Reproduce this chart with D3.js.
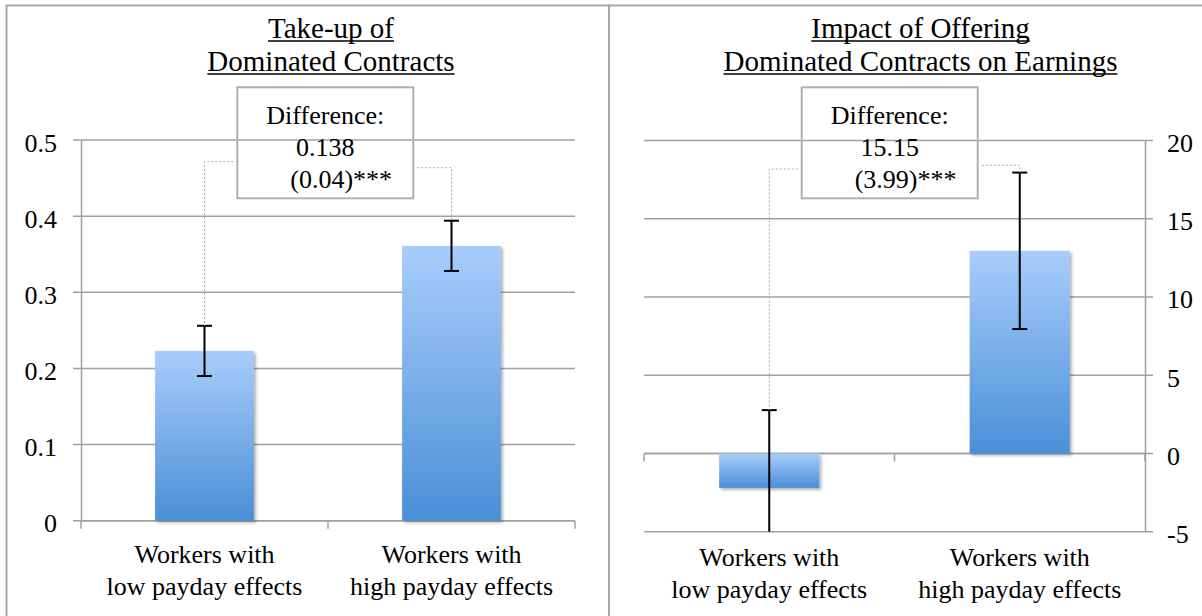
<!DOCTYPE html>
<html>
<head>
<meta charset="utf-8">
<script src="https://cdn.jsdelivr.net/npm/d3@7"></script>
<style>
  html, body { margin: 0; padding: 0; background: #fff; }
  svg { display: block; }
</style>
</head>
<body>
<svg id="chart" width="1202" height="616"></svg>
<script>
// Groups compared in both panels
const categories = [
  ["Workers with", "low payday effects"],
  ["Workers with", "high payday effects"]
];

// Panel 1: take-up of dominated contracts
const takeupMeans = [0.223, 0.361];
const takeupErrors = [0.033, 0.033];
const takeupTicks = [0, 0.1, 0.2, 0.3, 0.4, 0.5];
const takeupTickLabels = ["0", "0.1", "0.2", "0.3", "0.4", "0.5"];
const takeupTitle = ["Take-up of", "Dominated Contracts"];
const takeupDiff = ["Difference:", "0.138", "(0.04)***"];

// Panel 2: impact on earnings
const earningsMeans = [-2.2, 12.95];
const earningsErrors = [4.97, 5.0];
const earningsTicks = [-5, 0, 5, 10, 15, 20];
const earningsTickLabels = ["-5", "0", "5", "10", "15", "20"];
const earningsTitle = ["Impact of Offering", "Dominated Contracts on Earnings"];
const earningsDiff = ["Difference:", "15.15", "(3.99)***"];

const SERIF = "'Liberation Serif', Tinos, 'Times New Roman', Times, 'DejaVu Serif', serif";
const svg = d3.select("#chart").style("font-family", SERIF);
const GRID = "#a0a0a0";
const FS = 26;

// Bar fill: light blue at top fading to deeper blue at the bottom
const defs = svg.append("defs");
const grad = defs.append("linearGradient")
  .attr("id", "barFill").attr("x1", 0).attr("y1", 0).attr("x2", 0).attr("y2", 1);
grad.append("stop").attr("offset", "0%").attr("stop-color", "#a8cdfb");
grad.append("stop").attr("offset", "100%").attr("stop-color", "#4a8fd7");
const shadow = defs.append("filter").attr("id", "barShadow")
  .attr("x", "-10%").attr("y", "-10%").attr("width", "130%").attr("height", "130%");
shadow.append("feDropShadow").attr("dx", 2).attr("dy", 2).attr("stdDeviation", 1.6)
  .attr("flood-color", "#000").attr("flood-opacity", 0.3);

// Panel frames
svg.append("rect").attr("x", 6.5).attr("y", 5.5).attr("width", 602.5).attr("height", 620)
  .attr("fill", "none").attr("stroke", "#a8a8a8").attr("stroke-width", 2);
svg.append("rect").attr("x", 609).attr("y", 5.5).attr("width", 600).attr("height", 620)
  .attr("fill", "none").attr("stroke", "#a8a8a8").attr("stroke-width", 2);

function addText(g, x, y, s, size, anchor) {
  return g.append("text").attr("x", x).attr("y", y)
    .attr("text-anchor", anchor).attr("font-family", SERIF)
    .attr("font-size", size).attr("fill", "#000").text(s);
}

function drawPanel(opt) {
  const g = svg.append("g");
  const x = d3.scaleBand().domain(d3.range(categories.length)).range([opt.x0, opt.x1]).padding(0);
  const y = d3.scaleLinear().domain(opt.domain).range([opt.yBottom, opt.yTop]);
  const barW = x.bandwidth() * 0.4;
  const cx = i => x(i) + x.bandwidth() / 2;

  // Gridlines, running past the value axis as tick marks
  g.append("g").selectAll("line").data(opt.ticks).join("line")
    .attr("x1", opt.side === "left" ? opt.x0 - 8 : opt.x0)
    .attr("x2", opt.side === "left" ? opt.x1 : opt.x1 + 8)
    .attr("y1", d => y(d)).attr("y2", d => y(d))
    .attr("stroke", GRID).attr("stroke-width", 1.5);

  // Value axis
  const axisGen = (opt.side === "left" ? d3.axisLeft(y) : d3.axisRight(y))
    .tickValues(opt.ticks)
    .tickFormat((d, i) => opt.tickLabels[i])
    .tickSize(0).tickPadding(0).tickSizeOuter(0);
  const ax = g.append("g")
    .attr("transform", `translate(${opt.side === "left" ? opt.x0 : opt.x1},0)`)
    .call(axisGen)
    .attr("font-family", SERIF).attr("font-size", FS);
  ax.select(".domain").attr("stroke", GRID).attr("stroke-width", 1.5);
  ax.selectAll(".tick line").remove();
  ax.selectAll(".tick text")
    .attr("x", opt.side === "left" ? -24 : 22)
    .attr("dy", null).attr("y", 11).attr("fill", "#000")
    .attr("text-anchor", opt.side === "left" ? "end" : "start");

  // Category axis along the zero line, with ticks between groups
  const y0 = y(0);
  g.append("line").attr("x1", opt.x0).attr("x2", opt.x1).attr("y1", y0).attr("y2", y0)
    .attr("stroke", GRID).attr("stroke-width", 1.5);
  const bounds = d3.range(categories.length).map(i => x(i)).concat([opt.x1]);
  g.append("g").selectAll("line").data(bounds).join("line")
    .attr("x1", d => d).attr("x2", d => d).attr("y1", y0).attr("y2", y0 + 8)
    .attr("stroke", GRID).attr("stroke-width", 1.5);

  // Bars
  g.append("g").selectAll("rect").data(opt.means).join("rect")
    .attr("x", (d, i) => cx(i) - barW / 2)
    .attr("y", d => Math.min(y(d), y0))
    .attr("width", barW)
    .attr("height", d => Math.abs(y(d) - y0))
    .attr("fill", "url(#barFill)")
    .attr("filter", "url(#barShadow)");

  // Error bars, clipped to the plotted range
  const [lo, hi] = opt.domain;
  opt.means.forEach((m, i) => {
    const top = m + opt.errors[i], bot = m - opt.errors[i];
    const t = Math.min(top, hi), b = Math.max(bot, lo);
    const eg = g.append("g").attr("stroke", "#000").attr("stroke-width", 2);
    eg.append("line").attr("x1", cx(i)).attr("x2", cx(i)).attr("y1", y(t)).attr("y2", y(b));
    if (top <= hi) eg.append("line").attr("x1", cx(i) - 7.5).attr("x2", cx(i) + 7.5).attr("y1", y(top)).attr("y2", y(top));
    if (bot >= lo) eg.append("line").attr("x1", cx(i) - 7.5).attr("x2", cx(i) + 7.5).attr("y1", y(bot)).attr("y2", y(bot));
  });

  // Category labels
  categories.forEach((lines, i) => {
    lines.forEach((s, k) => addText(g, cx(i), opt.labelY + k * 32, s, FS, "middle"));
  });

  // Title, underlined
  const midX = (opt.x0 + opt.x1) / 2 + opt.titleShift;
  opt.title.forEach((s, k) => {
    const ty = 38 + k * 33;
    const t = addText(g, midX, ty, s, 29, "middle");
    const w = t.node().getComputedTextLength();
    g.append("line").attr("x1", midX - w / 2).attr("x2", midX + w / 2)
      .attr("y1", ty + 3).attr("y2", ty + 3).attr("stroke", "#000").attr("stroke-width", 1.5);
  });

  // Difference callout with dotted leaders to each error bar
  const bx = opt.boxX, by = 87.3, bw = 176, bh = 111;
  const dots = g.append("g").attr("fill", "none").attr("stroke", "#aaaaaa")
    .attr("stroke-width", 1).attr("stroke-dasharray", "2,2");
  const top0 = opt.means[0] + opt.errors[0], top1 = opt.means[1] + opt.errors[1];
  dots.append("path").attr("d", `M${bx - 4},${opt.leadY[0]} H${cx(0)} V${y(Math.min(top0, hi))}`);
  dots.append("path").attr("d", `M${bx + bw + 4},${opt.leadY[1]} H${cx(1)} V${y(Math.min(top1, hi))}`);
  g.append("rect").attr("x", bx).attr("y", by).attr("width", bw).attr("height", bh)
    .attr("fill", "none").attr("stroke", "#b0b0b0").attr("stroke-width", 2);
  addText(g, bx + bw / 2, 124, opt.diff[0], FS, "middle");
  addText(g, bx + bw / 2, 156, opt.diff[1], FS, "middle");
  addText(g, bx + 53, 188, opt.diff[2], FS, "start");
}

drawPanel({
  x0: 81, x1: 575, yTop: 140, yBottom: 520.7, domain: [0, 0.5],
  ticks: takeupTicks, tickLabels: takeupTickLabels, side: "left",
  means: takeupMeans, errors: takeupErrors, labelY: 563,
  title: takeupTitle, titleShift: 3, diff: takeupDiff, boxX: 237.3, leadY: [161.7, 167.7]
});

drawPanel({
  x0: 644, x1: 1145, yTop: 140.5, yBottom: 531.7, domain: [-5, 20],
  ticks: earningsTicks, tickLabels: earningsTickLabels, side: "right",
  means: earningsMeans, errors: earningsErrors, labelY: 566,
  title: earningsTitle, titleShift: 26, diff: earningsDiff, boxX: 801.7, leadY: [169, 165.3]
});
</script>
</body>
</html>
